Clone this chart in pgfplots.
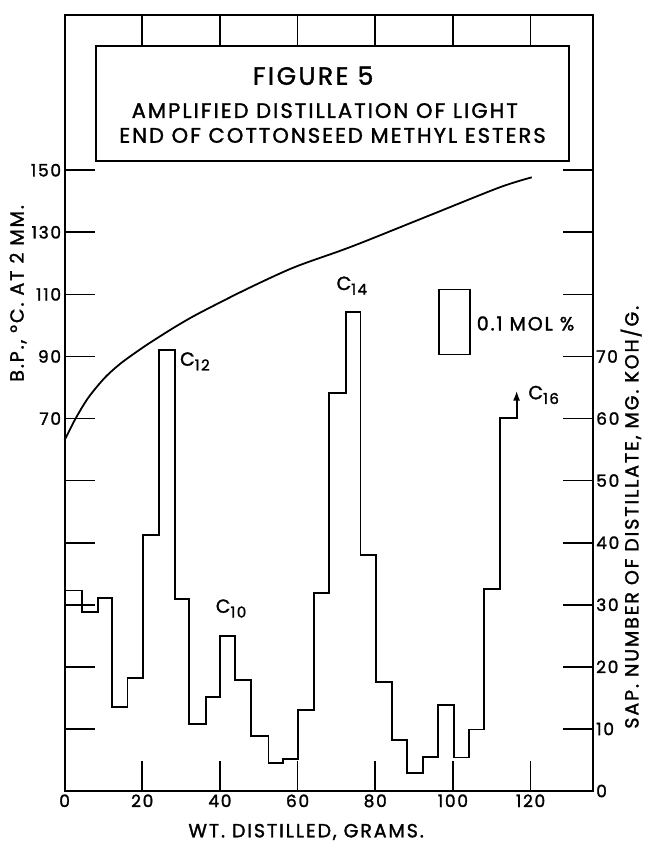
\documentclass[border=0pt]{standalone}
\usepackage{fontspec}
\setmainfont{Poppins}[FakeBold=1.6, LetterSpace=10]
\usepackage{pgfplots}
\usepackage{pgfplotstable}
\pgfplotsset{compat=1.18}
\usetikzlibrary{arrows.meta}

% boiling point curve, deg C (left axis)
\pgfplotstableread{
x t
0 63.0
2.7 69.7
6.1 76.7
10.4 83.2
14.7 88.0
20.3 93.0
24.6 96.5
29.5 100.3
34.9 104.1
46.9 111.7
58.9 118.6
70.9 124.0
77.8 127.3
94.9 135.9
112.1 144.5
120.3 147.7
}\bpdata

% sap. number of each cut (right axis), left edge of cut
\pgfplotstableread{
x s
0 32.3
4.4 28.9
8.5 31.1
12.3 13.6
16.2 18.2
20.1 41.2
24.3 71.1
28.4 30.9
32.1 10.8
36.3 15.2
40.0 25.0
43.9 17.9
48.0 8.9
52.5 4.5
56.3 5.2
60.0 13.0
64.3 31.9
68.2 64.1
72.4 77.2
76.2 38.0
80.1 17.5
84.2 8.2
88.2 2.9
92.2 5.5
96.2 13.8
100.3 5.4
104.1 9.9
108.0 32.6
112.1 60.1
116.4 64.5
}\sapdata

\newcommand\tck{\fontsize{17}{19}\selectfont}
\newcommand\lbl{\fontsize{19}{22}\selectfont}
\newcommand\sub[1]{\raisebox{-0.45ex}{\fontsize{15}{17}\selectfont #1}}

\pgfplotsset{base/.style={
  scale only axis, width=528.1pt, height=776pt,
  xmin=0, xmax=136, clip=false,
  axis line style={line width=2pt},
  every tick/.style={black, line width=1.7pt},
  major tick length=30pt, tick align=inside,
  ticklabel style={font=\tck},
  /pgf/number format/assume math mode=true}}

\begin{document}
\begin{tikzpicture}
\begin{axis}[base, ymin=-50, ymax=200,
  xtick={0,20,...,120}, xticklabel pos=lower,
  ytick={-30,-10,10,30,50,70,90,110,130,150},
  yticklabels={,,,,,70,90,110,130,150},
  ytick pos=left]
\addplot[black, line width=1.8pt, smooth] table {\bpdata};
\node[rotate=90, font=\lbl] at (axis cs:-12,110.3) {B.P., °C. AT 2 MM.};
\end{axis}

\begin{axis}[base, ymin=0, ymax=125,
  axis y line*=right, axis x line=none,
  ytick={0,10,...,100},
  yticklabels={0,10,20,30,40,50,60,70,,,}]
\addplot[black, line width=1.9pt, const plot,
  -{Latex[length=10pt,width=7pt]}] table {\sapdata};
\addplot[black, line width=1.7pt] coordinates
  {(96.4,70.3) (104.4,70.3) (104.4,80.8) (96.4,80.8)} -- cycle;
\draw[line width=2pt, fill=white] (axis cs:8.1,101.5) rectangle (axis cs:129.9,120);
\node[font=\fontsize{25}{28}\selectfont] at (axis cs:64,115.2) {FIGURE 5};
\node[font=\fontsize{21}{24}\selectfont] at (axis cs:67,109.6) {AMPLIFIED DISTILLATION OF LIGHT};
\node[font=\fontsize{21}{24}\selectfont] at (axis cs:69,105.6) {END OF COTTONSEED METHYL ESTERS};
\node[font=\lbl, anchor=base west, inner sep=0pt] at (axis cs:29.7,68.5) {C\sub{12}};
\node[font=\lbl, anchor=base west, inner sep=0pt] at (axis cs:38.9,28.7) {C\sub{10}};
\node[font=\lbl, anchor=base west, inner sep=0pt] at (axis cs:70.0,80.7) {C\sub{14}};
\node[font=\lbl, anchor=base west, inner sep=0pt] at (axis cs:119.4,63.1) {C\sub{16}};
\node[font=\lbl, anchor=base west, inner sep=0pt] at (axis cs:106.1,74.2) {0.1 MOL \%};
\node[font=\lbl] at (axis cs:62.2,-6.6) {WT. DISTILLED, GRAMS.};
\node[rotate=90, font=\lbl, inner sep=1pt] at (axis cs:145.9,44.1) {SAP. NUMBER OF DISTILLATE, MG. KOH/G.};
\coordinate (sw) at (rel axis cs:0,0);
\coordinate (ne) at (rel axis cs:1,1);
\end{axis}
\pgfresetboundingbox
\path[use as bounding box] ([shift={(-64.6pt,-57pt)}]sw) rectangle ([shift={(54.3pt,15pt)}]ne);
\end{tikzpicture}
\end{document}
